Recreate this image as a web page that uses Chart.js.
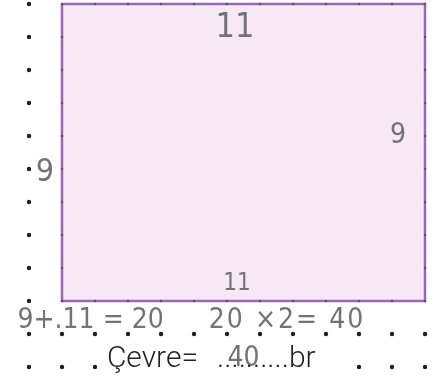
<!DOCTYPE html>
<html>
<head>
<meta charset="utf-8">
<script src="https://cdn.jsdelivr.net/npm/chart.js@4"></script>
<style>
  html, body { margin: 0; padding: 0; background: #fff; }
  canvas { display: block; }
</style>
</head>
<body>
<canvas id="chart" width="433" height="381"></canvas>
<script>
// Dot-paper grid (one unit = one dot spacing), rows counted downward.
const gridCols = [0, 1, 2, 3, 4, 5, 6, 7, 8, 9, 10, 11, 12];
const gridRows = [0, 1, 2, 3, 4, 5, 6, 7, 8, 9, 10, 11];

// Rectangle corners, 11 x 9 units.
const rectX = [1, 12, 12, 1, 1];
const rectY = [0, 0, 9, 9, 0];

// Dots hidden behind the "Çevre=" line.
const hiddenRow = 11;
const hiddenCols = [3, 4, 5, 6, 7, 8, 9];

// Handwritten notes and printed text, anchored in grid units.
const noteTexts = ["11", "9", "9", "11", "9+.11 = 20", "20 ×2= 40", "40"];
const noteX = [6.24, 11.18, 0.48, 6.3, -0.35, 5.45, 6.5];
const noteY = [0.73, 4.0, 5.1, 8.48, 9.6, 9.6, 10.75];
const noteSize = [34, 28, 32, 24, 28, 28, 28];
const noteSpacing = [0, 0, 0, 0, 0, 2, 0];
const noteAlign = ["center", "center", "center", "center", "left", "left", "center"];

const printTexts = ["Çevre=", "..........br"];
const printX = [2.36, 5.7];
const printY = [11.0, 11.0];

const rectLeft = Math.min(...rectX), rectRight = Math.max(...rectX);
const rectTop = Math.min(...rectY), rectBottom = Math.max(...rectY);

const bigDots = [];
const edgeDots = [];
for (const r of gridRows) {
  for (const c of gridCols) {
    const inside = c >= rectLeft && c <= rectRight && r >= rectTop && r <= rectBottom;
    const onEdge = inside && (c === rectLeft || c === rectRight || r === rectTop || r === rectBottom);
    if (onEdge) edgeDots.push({ x: c, y: r });
    else if (!inside && !(r === hiddenRow && hiddenCols.includes(c))) bigDots.push({ x: c, y: r });
  }
}

const textPlugin = {
  id: "notes",
  afterDatasetsDraw(chart) {
    const { ctx, scales } = chart;
    ctx.save();
    ctx.textBaseline = "middle";
    ctx.fillStyle = "#737373";
    noteTexts.forEach((t, i) => {
      ctx.font = `200 ${noteSize[i]}px 'DejaVu Sans Condensed', 'DejaVu Sans'`;
      ctx.letterSpacing = `${noteSpacing[i]}px`;
      ctx.textAlign = noteAlign[i];
      ctx.fillText(t, scales.x.getPixelForValue(noteX[i]), scales.y.getPixelForValue(noteY[i]));
    });
    ctx.letterSpacing = "0px";
    ctx.textBaseline = "alphabetic";
    ctx.textAlign = "left";
    ctx.fillStyle = "#222";
    printTexts.forEach((t, i) => {
      ctx.font = "300 30px Roboto";
      ctx.fillText(t, scales.x.getPixelForValue(printX[i]), scales.y.getPixelForValue(printY[i]));
    });
    ctx.restore();
  },
};

new Chart(document.getElementById("chart"), {
  type: "scatter",
  data: {
    datasets: [
      {
        data: bigDots,
        pointRadius: 2.2,
        pointBackgroundColor: "#1e1e1e",
        pointBorderWidth: 0,
        order: 1,
      },
      {
        data: edgeDots,
        pointRadius: 1.2,
        pointBackgroundColor: "#555",
        pointBorderWidth: 0,
        order: 2,
      },
      {
        type: "line",
        data: rectX.map((x, i) => ({ x, y: rectY[i] })),
        borderColor: "#9c66b6",
        borderWidth: 2.5,
        backgroundColor: "#f6e8f4",
        fill: "shape",
        pointRadius: 0,
        tension: 0,
        order: 3,
      },
    ],
  },
  options: {
    responsive: false,
    devicePixelRatio: 1,
    animation: false,
    layout: { padding: 0, autoPadding: false },
    scales: {
      x: { type: "linear", display: false, min: -29 / 33, max: 404 / 33 },
      y: { type: "linear", display: false, reverse: true, min: -4 / 33, max: 377 / 33 },
    },
    plugins: {
      legend: { display: false },
      tooltip: { enabled: false },
    },
  },
  plugins: [textPlugin],
});
</script>
</body>
</html>
